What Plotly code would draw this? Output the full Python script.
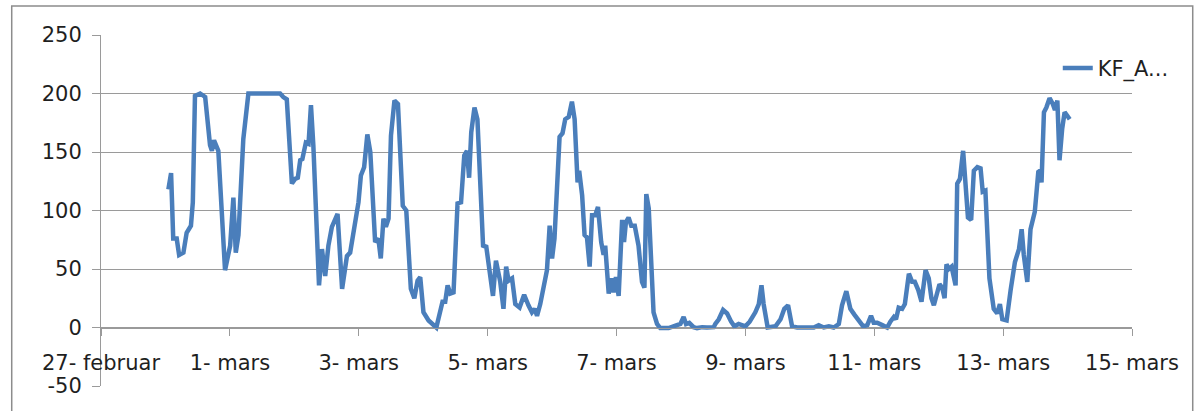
import pandas as pd
import plotly.graph_objects as go

hours = [25.1, 26.1, 26.9, 28.2, 29.1, 30.7, 31.9, 33.5, 34.2, 35.0,
         36.9, 38.8, 40.6, 41.3, 42.1, 43.7, 46.2, 48.1, 49.3, 50.2,
         51.2, 53.0, 54.9, 66.7, 67.9, 69.2, 71.1, 72.3, 73.3, 74.2,
         75.0, 76.3, 77.3, 78.2, 79.1, 81.2, 82.3, 83.5, 84.7, 86.0,
         88.1, 89.8, 91.6, 92.8, 95.9, 96.8, 98.0, 99.2, 100.3, 102.1,
         103.3, 104.2, 105.2, 106.1, 107.1, 108.0, 109.3, 110.6, 112.4, 113.7,
         115.4, 116.7, 117.9, 118.9, 120.1, 121.1, 122.0, 124.9, 126.3, 127.2,
         128.2, 129.1, 130.1, 131.3, 132.8, 134.1, 135.3, 136.3, 137.1, 137.9,
         139.1, 140.2, 142.3, 143.5, 146.0, 147.1, 148.7, 149.9, 150.9, 151.8,
         153.1, 154.3, 155.9, 157.6, 159.2, 160.5, 161.5, 162.4, 163.6, 164.8,
         166.1, 167.1, 168.0, 168.9, 170.8, 171.9, 172.9, 174.2, 175.4, 176.4,
         177.5, 178.1, 179.2, 180.1, 181.0, 182.0, 182.9, 184.1, 185.1, 186.3,
         187.2, 187.8, 189.1, 190.1, 190.9, 191.8, 192.8, 194.1, 194.8, 195.5,
         196.5, 197.5, 198.8, 200.2, 201.5, 202.4, 203.1, 204.0, 205.8, 207.1,
         208.3, 211.4, 214.6, 215.8, 217.0, 217.9, 219.1, 220.7, 222.0, 223.9,
         225.7, 228.2, 228.8, 230.1, 231.7, 233.2, 234.7, 235.9, 237.5, 238.8,
         240.0, 241.6, 243.7, 245.0, 246.0, 246.8, 248.3, 251.2, 253.1, 254.5,
         255.9, 257.4, 259.3, 263.0, 265.5, 267.3, 269.2, 271.1, 272.9, 274.8,
         276.0, 277.6, 279.1, 280.6, 282.2, 283.9, 285.4, 286.8, 287.8, 289.1,
         291.0, 292.8, 294.0, 295.3, 296.1, 297.1, 298.4, 299.4, 300.9, 302.1,
         303.1, 304.4, 305.6, 307.1, 308.3, 309.3, 310.2, 311.5, 312.3, 313.3,
         314.2, 314.9, 315.8, 316.8, 317.4, 318.3, 318.9, 319.9, 321.1, 322.0,
         322.9, 324.1, 325.1, 326.4, 327.6, 328.4, 329.4, 330.9, 332.5, 333.8,
         334.8, 335.7, 337.3, 338.8, 340.4, 341.9, 342.9, 343.7, 345.0, 346.2,
         347.8, 349.1, 349.7, 350.3, 351.2, 352.1, 353.3, 354.5, 355.3, 356.2,
         357.0, 358.0, 358.9, 359.9, 360.8]

values = [118, 132, 76, 76, 62, 64, 81, 87, 107, 198,
          200, 197, 156, 151, 160, 151, 49, 70, 111, 64,
          79, 161, 200, 200, 197, 195, 123, 127, 128, 143,
          144, 158, 157, 190, 155, 36, 67, 44, 70, 86,
          97, 33, 61, 64, 107, 130, 137, 165, 150, 73,
          76, 59, 93, 86, 93, 164, 194, 191, 104, 100,
          33, 25, 40, 43, 13, 10, 6, 0, 13, 22,
          22, 36, 29, 30, 106, 107, 147, 151, 128, 167,
          188, 178, 70, 69, 27, 57, 39, 16, 52, 40,
          42, 20, 17, 28, 19, 13, 16, 10, 20, 36,
          49, 87, 59, 76, 163, 166, 178, 180, 193, 178,
          124, 134, 113, 79, 77, 52, 96, 96, 103, 73,
          62, 70, 29, 42, 30, 43, 27, 92, 73, 90,
          94, 87, 87, 70, 39, 34, 114, 102, 13, 3,
          -0.5, -0.5, 1.7, 3, 9, 3, 4, 0.3, -0.5, 0.3,
          0, 0.3, 3, 7, 15, 12, 5, 1, 3, 2,
          1, 5, 13, 20, 36, 20, 0, 1, 7, 16,
          19, 1, 0, 0, 0, 2, 0, 1, 0, 3,
          19, 31, 16, 11, 6, 1, 2, 10, 4, 4,
          2, 0, 5, 9, 7, 17, 16, 20, 46, 39,
          39, 32, 22, 49, 42, 25, 19, 32, 37, 34,
          25, 54, 50, 52, 47, 36, 123, 127, 151, 121,
          94, 92, 134, 137, 136, 116, 117, 42, 16, 12,
          20, 7, 6, 32, 56, 67, 84, 62, 39, 84,
          99, 133, 134, 124, 184, 188, 196, 191, 186, 194,
          143, 170, 184, 181, 178]

series_name = "KF_A..."
start = pd.Timestamp("2013-02-27")
tick_dates = ["2013-02-27", "2013-03-01", "2013-03-03", "2013-03-05", "2013-03-07",
              "2013-03-09", "2013-03-11", "2013-03-13", "2013-03-15"]
tick_labels = ["27- februar", "1- mars", "3- mars", "5- mars", "7- mars",
               "9- mars", "11- mars", "13- mars", "15- mars"]
y_ticks = [-50, 0, 50, 100, 150, 200, 250]
y_tick_labels = ["-50", "0", "50", "100", "150", "200", "250"]

times = [start + pd.Timedelta(hours=h) for h in hours]

FONT = "DejaVu Sans"
GRID = "#9a9a9a"
TXT = "#1f1f1f"

fig = go.Figure()
fig.add_trace(go.Scatter(
    x=times, y=values, mode="lines", name=series_name,
    line=dict(color="#4A7EBB", width=4.5), showlegend=True,
))

fig.update_layout(
    width=1195, height=411,
    margin=dict(l=101, r=63, t=35, b=25),
    paper_bgcolor="white", plot_bgcolor="white",
    font=dict(family=FONT, size=21, color=TXT),
    showlegend=True,
    legend=dict(x=0.928, y=0.905, xanchor="left", yanchor="middle",
                bgcolor="rgba(0,0,0,0)", font=dict(size=21, family=FONT, color=TXT)),
    xaxis=dict(
        type="date", range=[tick_dates[0], tick_dates[-1]],
        tickvals=tick_dates, ticktext=tick_labels,
        anchor="free", position=50 / 300,
        showgrid=False, zeroline=False,
        showline=True, linecolor=GRID, linewidth=1,
        ticks="outside", ticklen=7, tickcolor=GRID, tickwidth=1,
        ticklabelstandoff=9,
        tickfont=dict(size=21, family=FONT, color=TXT),
    ),
    yaxis=dict(
        range=[-50, 250], tickvals=y_ticks, ticktext=y_tick_labels,
        showgrid=True, gridcolor=GRID, gridwidth=1,
        zeroline=False,
        showline=True, linecolor=GRID, linewidth=1,
        ticks="outside", ticklen=8, tickcolor=GRID, tickwidth=1,
        ticklabelstandoff=6,
        tickfont=dict(size=21, family=FONT, color=TXT),
    ),
    shapes=[dict(type="rect", xref="paper", yref="paper",
                 x0=-0.0866, x1=1.0589, y0=-0.09, y1=1.0826,
                 line=dict(color="#8c8c8c", width=1.5), fillcolor="rgba(0,0,0,0)",
                 layer="below")],
)

fig.write_html("out.html")
